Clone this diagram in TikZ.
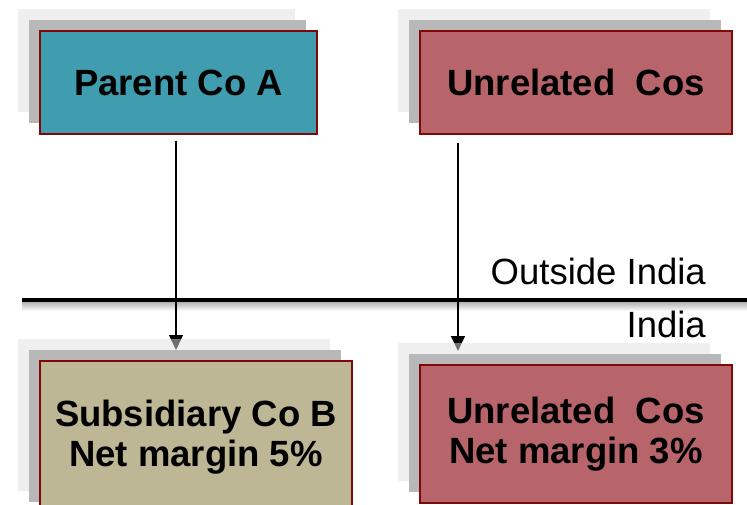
\documentclass[tikz,border=0pt]{standalone}
\usepackage{fontspec}
\setmainfont{Liberation Sans}
\usetikzlibrary{arrows.meta,calc}

\definecolor{tealbox}{RGB}{64,157,176}
\definecolor{rosebox}{RGB}{184,100,107}
\definecolor{tanbox}{RGB}{189,183,150}
\definecolor{boxedge}{RGB}{128,8,8}
\definecolor{shadelight}{gray}{0.88}
\definecolor{shademid}{RGB}{184,184,184}

\tikzset{
  boxbase/.style={rectangle, inner sep=0pt, outer sep=0pt},
  lightlayer/.style={boxbase, fill=shadelight, fill opacity=0.5},
  midlayer/.style={boxbase, fill=shademid},
  frontbox/.style={boxbase, draw=boxedge, line width=1.4pt, align=center,
    font=\fontsize{36.5}{40}\selectfont\bfseries},
  arr/.style={line width=1.3pt, -{Triangle[width=14pt,length=15pt]}},
  divider/.style={line width=4pt},
  regionlabel/.style={inner sep=0pt, font=\fontsize{36.5}{40}\selectfont}
}

\begin{document}
\begin{tikzpicture}[x=1pt,y=-1pt]
\useasboundingbox (0,0) rectangle (747,505);

% anchor points for the connectors
\coordinate (a1) at (176,141);
\coordinate (a2) at (458,143);

% dividing line between the two regions, with its soft shadow
\coordinate (divl) at (22,300);
\coordinate (divr) at (747,300);
\shade[top color=black!30, bottom color=white, draw=none] (22,302) rectangle (747,311);
\draw[divider] (divl) -- (divr);

\node[regionlabel, anchor=base east] (outl) at (706,284) {Outside India};
\node[regionlabel, anchor=base east] (inl) at (706,337) {India};

% shadow layers of the bottom boxes (their tops are needed for the connectors)
\node[midlayer, minimum width=312, minimum height=152] (sb-m) at (185,426) {};
\node[midlayer, minimum width=312, minimum height=138] (ur-m) at (565,423) {};

% connectors
\draw[arr] (a1) -- (a1 |- sb-m.north);
\draw[arr, shorten >=3pt] (a2) -- (a2 |- ur-m.north);

% top-left stack
\node[lightlayer, minimum width=277, minimum height=103] (pa-l) at (156.5,60.5) {};
\node[midlayer, minimum width=277, minimum height=103] (pa-m) at (167.5,71.5) {};
\node[frontbox, fill=tealbox, minimum width=277, minimum height=103] (pa) at (178.5,82.5) {Parent Co A};

% top-right stack
\node[lightlayer, minimum width=312, minimum height=103] (uo-l) at (554,60.5) {};
\node[midlayer, minimum width=312, minimum height=103] (uo-m) at (565,71.5) {};
\node[frontbox, fill=rosebox, minimum width=312, minimum height=103] (uo) at (576,82.5) {Unrelated\ \ Cos};

% bottom-left stack
\node[lightlayer, minimum width=312, minimum height=152] (sb-l) at (174,415) {};
\node[midlayer, minimum width=312, minimum height=152] at (185,426) {};
\node[frontbox, fill=tanbox, minimum width=312, minimum height=152] (sb) at (196,437) {Subsidiary Co B\\Net margin 5\%};

% bottom-right stack
\node[lightlayer, minimum width=312, minimum height=138] (ur-l) at (554,412) {};
\node[midlayer, minimum width=312, minimum height=138] at (565,423) {};
\node[frontbox, fill=rosebox, minimum width=312, minimum height=138] (ur) at (576,434) {Unrelated\ \ Cos\\Net margin 3\%};
\end{tikzpicture}
\end{document}
